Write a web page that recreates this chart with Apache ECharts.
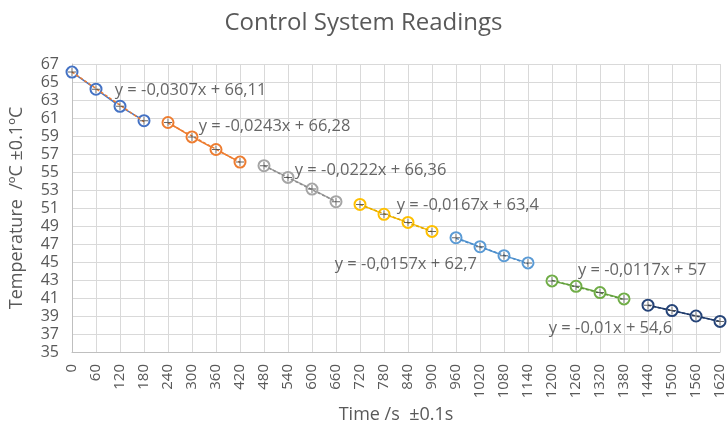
<!DOCTYPE html>
<html>
<head>
<meta charset="utf-8">
<script src="https://cdn.jsdelivr.net/npm/echarts@6/dist/echarts.min.js"></script>
<style>html,body{margin:0;padding:0;background:#fff}#c{width:727px;height:425px}</style>
</head>
<body>
<div id="c"></div>
<script>
// Readings taken every 60 s, split into seven runs of four
const times = [0,60,120,180,240,300,360,420,480,540,600,660,720,780,840,900,960,1020,1080,1140,1200,1260,1320,1380,1440,1500,1560,1620];
const temps = [66.1,64.2,62.3,60.7, 60.5,58.9,57.5,56.1, 55.7,54.4,53.1,51.7, 51.4,50.3,49.4,48.4, 47.7,46.7,45.7,44.9, 42.9,42.3,41.6,40.9, 40.2,39.6,39.0,38.4];
const runColors = ['#4472C4','#ED7D31','#A5A5A5','#FFC000','#5B9BD5','#70AD47','#264478'];
const trendColors = ['#ED7D31','#ED7D31','#8C8C8C','#E0A800','#4A8BC9','#5E9A3A','#1E3864'];
// Linear fit per run: slope, intercept
const slopes = [-0.0307,-0.0243,-0.0222,-0.0167,-0.0157,-0.0117,-0.01];
const intercepts = [66.11,66.28,66.36,63.4,62.7,57,54.6];
const eqText = ['y = -0,0307x + 66,11','y = -0,0243x + 66,28','y = -0,0222x + 66,36','y = -0,0167x + 63,4','y = -0,0157x + 62,7','y = -0,0117x + 57','y = -0,01x + 54,6'];
// Anchor of each equation text in data units (left-middle)
const eqX = [107,317,557,812,657,1265,1192];
const eqY = [64.1,60.1,55.2,51.3,44.7,44.1,37.6];
const yTicks = [35,37,39,41,43,45,47,49,51,53,55,57,59,61,63,65,67];

const txt = '#595959';
const font = 'Open Sans';
const series = [];
const plusPath = 'path://M4.4,0H5.6V4.4H10V5.6H5.6V10H4.4V5.6H0V4.4H4.4Z';

for (let r = 0; r < 7; r++) {
  const pts = [];
  for (let i = r*4; i < r*4+4; i++) pts.push([times[i], temps[i]]);
  const x0 = times[r*4], x1 = times[r*4+3];
  series.push({
    type: 'line', data: pts, symbol: 'emptyCircle', symbolSize: 11,
    lineStyle: {color: runColors[r], width: 1.5},
    itemStyle: {color: runColors[r], borderColor: runColors[r], borderWidth: 1.6},
    z: 3, animation: false
  });
  series.push({
    type: 'line', symbol: 'none', z: 4, animation: false,
    data: [[x0, slopes[r]*x0+intercepts[r]], [x1, slopes[r]*x1+intercepts[r]]],
    lineStyle: {color: trendColors[r], width: 1.5, type: [3,2]}
  });
  series.push({
    type: 'scatter', data: pts, symbol: plusPath, symbolSize: 8,
    itemStyle: {color: '#404040'}, z: 5, animation: false, silent: true
  });
}
series.push({
  type: 'scatter', symbolSize: 0, animation: false, silent: true,
  data: eqText.map((t,i) => ({value: [eqX[i], eqY[i]], name: t})),
  label: {show: true, position: 'right', distance: 0, formatter: p => p.name,
          color: '#404040', fontSize: 16.5, fontFamily: font}
});

const chart = echarts.init(document.getElementById('c'), null, {renderer: 'canvas'});
chart.setOption({
  animation: false,
  title: {text: 'Control System Readings', left: 'center', top: 6,
          textStyle: {color: txt, fontSize: 24, fontWeight: 'normal', fontFamily: font}},
  grid: {left: 72, right: 7, top: 64, bottom: 73, containLabel: false, outerBoundsMode: 'none'},
  xAxis: {
    type: 'value', min: 0, max: 1620, interval: 60,
    name: 'Time /s  ±0.1s', nameLocation: 'middle', nameGap: 50,
    nameTextStyle: {color: txt, fontSize: 18, fontFamily: font},
    axisLine: {lineStyle: {color: '#BFBFBF'}}, axisTick: {show: false},
    axisLabel: {rotate: 90, color: txt, fontSize: 15, fontFamily: font, margin: 12,
                formatter: v => String(v)},
    splitLine: {lineStyle: {color: '#D9D9D9'}}
  },
  yAxis: {
    type: 'value', min: 35, max: 67, interval: 2,
    name: 'Temperature  /ºC ±0.1ºC', nameLocation: 'middle', nameGap: 46,
    nameTextStyle: {color: txt, fontSize: 18, fontFamily: font},
    axisLine: {show: true, lineStyle: {color: '#BFBFBF'}}, axisTick: {show: false},
    axisLabel: {color: txt, fontSize: 16, fontFamily: font, margin: 13,
                formatter: v => yTicks.includes(v) ? String(v) : ''},
    splitLine: {lineStyle: {color: '#D9D9D9'}}
  },
  series: series
});
</script>
</body>
</html>
